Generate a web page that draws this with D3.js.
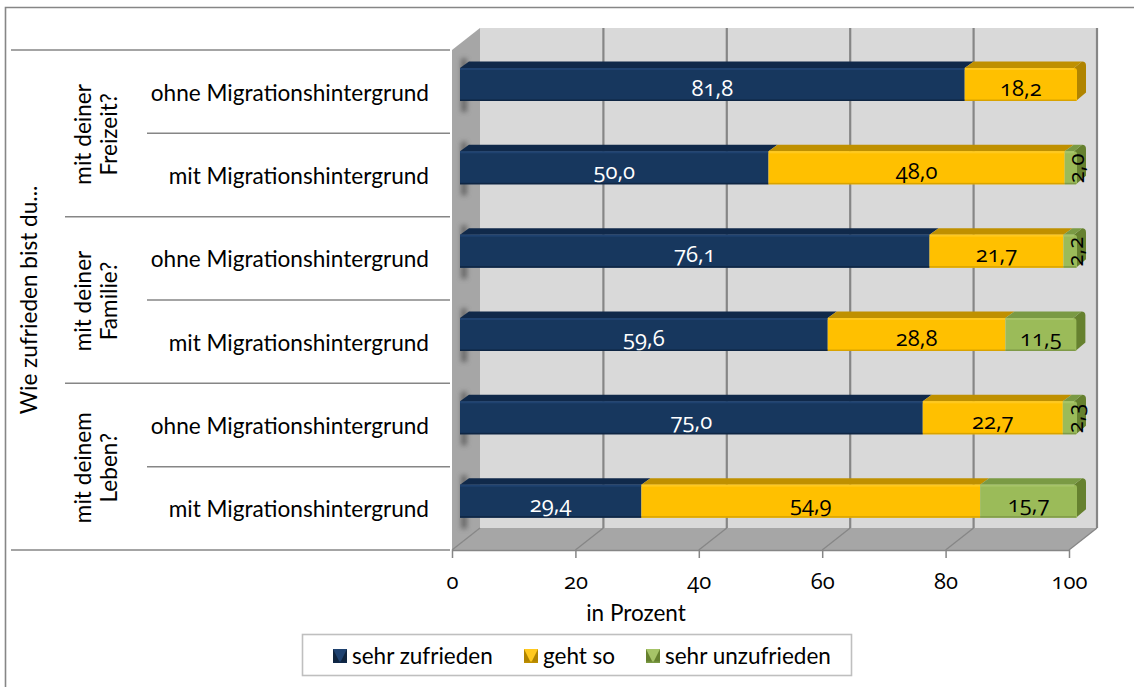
<!DOCTYPE html>
<html><head><meta charset="utf-8">
<script src="https://cdn.jsdelivr.net/npm/d3@7"></script>
<style>
html,body{margin:0;padding:0;background:#fff}
svg{display:block}
text{font-family:"Lato","Open Sans",sans-serif;fill:#000}
.num,.tick text{font-family:"Open Sans","Noto Sans",sans-serif;font-variant-numeric:oldstyle-nums;font-feature-settings:"onum" 1}
</style></head><body>
<svg id="c" width="1134" height="687"></svg>
<script>
const rowLabels=["ohne Migrationshintergrund","mit Migrationshintergrund","ohne Migrationshintergrund","mit Migrationshintergrund","ohne Migrationshintergrund","mit Migrationshintergrund"];
const groupLabels=[["mit deiner","Freizeit?"],["mit deiner","Familie?"],["mit deinem","Leben?"]];
const seriesNames=["sehr zufrieden","geht so","sehr unzufrieden"];
const sehrZufrieden=[81.8,50.0,76.1,59.6,75.0,29.4];
const gehtSo=[18.2,48.0,21.7,28.8,22.7,54.9];
const sehrUnzufrieden=[0,2.0,2.2,11.5,2.3,15.7];
const xTicks=[0,20,40,60,80,100];
const yTitle="Wie zufrieden bist du...";
const xTitle="in Prozent";

const svg=d3.select("#c");
const fmt=v=>v.toFixed(1).replace(".",",");
const front={x0:452,x1:1069,y0:50,y1:550}, depth={x:28,y:22};
const x=d3.scaleLinear().domain([0,100]).range([front.x0,front.x1]);
const y=d3.scaleBand().domain(d3.range(rowLabels.length)).range([front.y0,front.y1]);
const fills=d3.scaleOrdinal().domain(seriesNames).range(["#17375e","#ffc000","#9bbb59"]);
const tops=d3.scaleOrdinal().domain(seriesNames).range(["#10294a","#bf9000","#7a9a44"]);
const sides=d3.scaleOrdinal().domain(seriesNames).range(["#0f243e","#b08400","#66812f"]);
const hi=d3.scaleOrdinal().domain(seriesNames).range(["#1f4270","#ffc91f","#a6c468"]);
const lo=d3.scaleOrdinal().domain(seriesNames).range(["#0f2643","#d9a300","#7f9a48"]);

const defs=svg.append("defs");
defs.append("filter").attr("id","blur").attr("x","-100%").attr("width","300%").attr("y","-30%").attr("height","160%")
  .append("feGaussianBlur").attr("stdDeviation",2.5);

// outer frame
svg.append("path").attr("d","M5.5,687V7.5H1134").attr("fill","none").attr("stroke","#868686").attr("stroke-width",1.6);

// walls
const poly=p=>"M"+p.map(d=>d.join(",")).join("L")+"Z";
svg.append("path").attr("d",poly([[front.x0+depth.x,front.y0-depth.y],[x(100)+depth.x,front.y0-depth.y],[x(100)+depth.x,front.y1-depth.y],[front.x0+depth.x,front.y1-depth.y]])).attr("fill","#d9d9d9");
svg.append("path").attr("d",poly([[front.x0,front.y0],[front.x0+depth.x,front.y0-depth.y],[front.x0+depth.x,front.y1-depth.y],[front.x0,front.y1]])).attr("fill","#a6a6a6");
svg.append("path").attr("d",poly([[front.x0,front.y1],[front.x0+depth.x,front.y1-depth.y],[x(100)+depth.x,front.y1-depth.y],[x(100),front.y1]])).attr("fill","#a6a6a6");

// gridlines on back wall and floor
const grid=svg.append("g").attr("stroke","#868686").attr("fill","none");
xTicks.forEach(t=>{
  grid.append("path").attr("stroke-width",t===0?0:2.2)
    .attr("d",`M${x(t)+depth.x},${front.y0-depth.y}V${front.y1-depth.y}`);
  grid.append("path").attr("stroke-width",1.3)
    .attr("d",`M${x(t)+depth.x},${front.y1-depth.y}L${x(t)},${front.y1}`);
});

// axis along the front edge
const ax=svg.append("g").attr("transform",`translate(0,${front.y1})`)
  .call(d3.axisBottom(x).tickValues(xTicks).tickSize(8).tickPadding(15).tickFormat(d=>d));
ax.selectAll("path,line").attr("stroke","#868686").attr("stroke-width",1.5);
ax.select(".domain").attr("d",`M${x(0)},0.5H${x(100)}`);
ax.selectAll("text").attr("font-size",22).attr("fill","#000");

// hierarchical category lines
const rowLines=svg.append("g").attr("stroke","#868686").attr("stroke-width",1.5);
d3.range(rowLabels.length+1).forEach(i=>{
  const yy=i<rowLabels.length?y(i):front.y1;
  const left=(i%6===0)?11:(i%2===0?65:147);
  rowLines.append("line").attr("x1",left).attr("x2",front.x0-2).attr("y1",yy).attr("y2",yy);
});

// stacked bars
const barOffset=8, barDx=9, barDy=6.5, barTop=18, barH=33;
const k=(x(100)-x(0))/100;
const px=v=>front.x0+barOffset+v*k;
const data=rowLabels.map((r,i)=>{
  let c=0;
  return [sehrZufrieden[i],gehtSo[i],sehrUnzufrieden[i]].map((v,s)=>({i,s:seriesNames[s],v,a:c,b:(c+=v)}));
});

// soft shadows on the left wall
svg.append("g").selectAll("rect").data(rowLabels).join("rect")
  .attr("x",px(0)+1).attr("width",6)
  .attr("y",(d,i)=>y(i)+barTop-barDy-3).attr("height",barH+barDy+14)
  .attr("fill","#555").attr("opacity",.75).attr("filter","url(#blur)");

const gBars=svg.append("g");
data.forEach(row=>{
  const segs=row.filter(d=>d.v>0);
  const last=segs[segs.length-1];
  const yt=y(row[0].i)+barTop, yb=yt+barH;
  const g=gBars.append("g");
  const xe=px(last.b);
  g.append("path").attr("fill",sides(last.s))
    .attr("d",`M${xe-3},${yt}L${xe+barDx-4},${yt-barDy}Q${xe+barDx},${yt-barDy} ${xe+barDx},${yt-barDy+4}L${xe+barDx},${yb-barDy-2}L${xe-1},${yb}Z`);
  g.selectAll("path.top").data(segs).join("path").attr("class","top").attr("fill",d=>tops(d.s))
    .attr("d",d=>{
      const isLast=d===last;
      return `M${px(d.a)},${yt}L${px(d.a)+barDx},${yt-barDy}L${px(d.b)+barDx-(isLast?4:0)},${yt-barDy}L${px(d.b)-(isLast?3:0)},${yt}Z`;
    });
  // front faces: the free end of the bar has softly rounded corners
  const face=(d,inset,h,yy)=>{
    const a=px(d.a), b=px(d.b);
    if(d!==last) return `M${a},${yy}H${b}V${yy+h}H${a}Z`;
    return `M${a},${yy}H${b-inset}Q${b},${yy} ${b},${yy+inset}V${yy+h-1}Q${b},${yy+h} ${b-1},${yy+h}H${a}Z`;
  };
  g.selectAll("path.f").data(segs).join("path").attr("class","f")
    .attr("d",d=>face(d,3,barH,yt)).attr("fill",d=>fills(d.s));
  g.selectAll("rect.h").data(segs).join("rect").attr("class","h")
    .attr("x",d=>px(d.a)).attr("y",yt).attr("width",d=>Math.max(0,px(d.b)-px(d.a)-(d===last?3:0))).attr("height",2).attr("fill",d=>hi(d.s));
  g.selectAll("rect.l").data(segs).join("rect").attr("class","l")
    .attr("x",d=>px(d.a)).attr("y",yb-1.5).attr("width",d=>Math.max(0,px(d.b)-px(d.a)-(d===last?1:0))).attr("height",1.5).attr("fill",d=>lo(d.s));
});

// data labels
const gLab=svg.append("g");
data.flat().filter(d=>d.v>0).forEach(d=>{
  const cx=(px(d.a)+px(d.b))/2, cy=y(d.i)+38;
  const narrow=d.v<3;
  const t=gLab.append("text").attr("class","num").attr("font-size",22).attr("text-anchor","middle").attr("dy","0.35em")
    .style("fill",d.s===seriesNames[0]?"#fff":"#000").text(fmt(d.v));
  if(narrow) t.attr("transform",`translate(${cx+5},${cy-3}) rotate(-90)`);
  else t.attr("x",cx).attr("y",cy);
});

// row labels
svg.append("g").selectAll("text").data(rowLabels).join("text")
  .attr("x",429).attr("y",(d,i)=>y(i)+y.bandwidth()/2+1).attr("dy","0.35em")
  .attr("text-anchor","end").attr("font-size",22.6).text(d=>d);

// group labels
groupLabels.forEach((ls,g)=>{
  const cy=y(g*2+1)+1;
  ls.forEach((l,j)=>{
    svg.append("text").attr("transform",`translate(${83+j*26},${cy}) rotate(-90)`)
      .attr("text-anchor","middle").attr("dy","0.35em").attr("font-size",22.6).text(l);
  });
});
svg.append("text").attr("transform","translate(29,300) rotate(-90)")
  .attr("text-anchor","middle").attr("dy","0.35em").attr("font-size",22.6).text(yTitle);
svg.append("text").attr("x",636).attr("y",613).attr("text-anchor","middle").attr("dy","0.35em").attr("font-size",22.5).text(xTitle);

// legend
svg.append("rect").attr("x",302.5).attr("y",634.5).attr("width",549).attr("height",41)
  .attr("fill","#fff").attr("stroke","#bfbfbf").attr("stroke-width",1.6);
const legendX=[333,524,646], sw=14, ly=649;
seriesNames.forEach((s,i)=>{
  const g=svg.append("g").attr("transform",`translate(${legendX[i]},${ly})`);
  g.append("rect").attr("width",sw).attr("height",sw).attr("fill",sides(s));
  g.append("path").attr("d",`M0,0H${sw}L${sw/2},${sw}Z`).attr("fill",hi(s));
  g.append("rect").attr("y",sw-1.5).attr("width",sw).attr("height",1.5).attr("fill",tops(s));
  g.append("text").attr("x",sw+5).attr("y",sw/2).attr("dy","0.35em").attr("font-size",22.5).text(s);
});
</script>
</body></html>
